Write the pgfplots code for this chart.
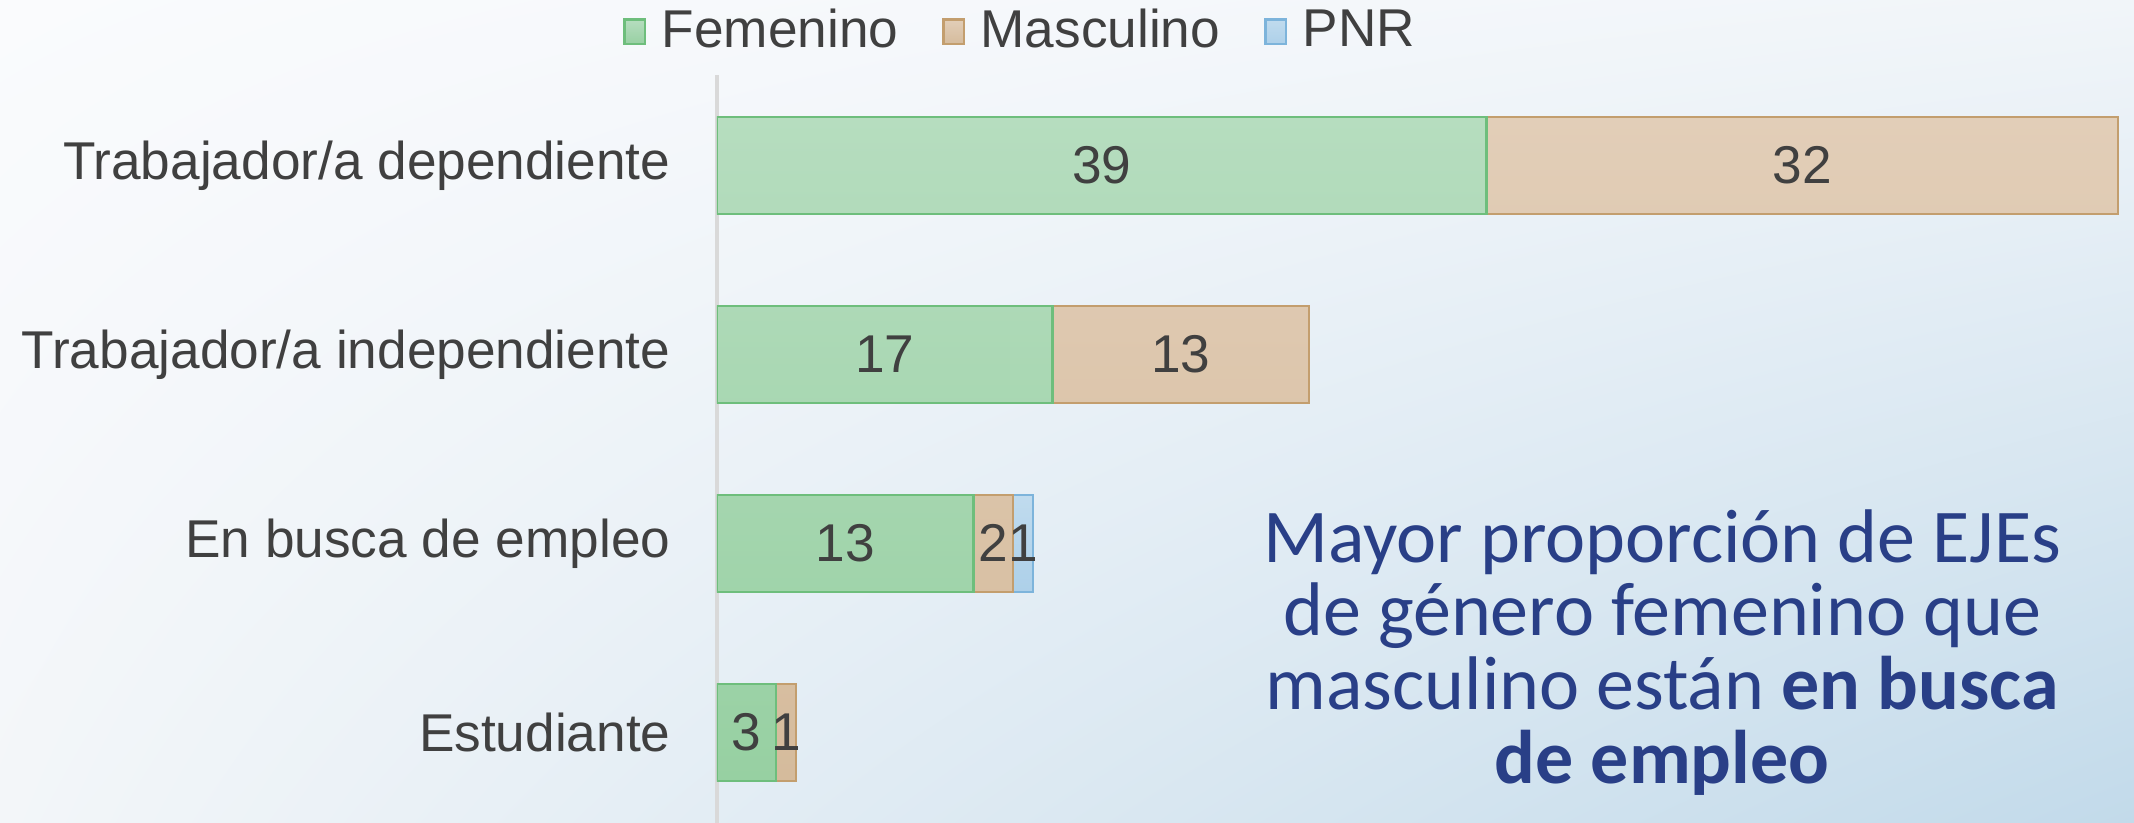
\documentclass[border=0pt]{standalone}
\usepackage{fontspec}
\setmainfont{Liberation Sans}
\newfontfamily\calibri{Carlito}
\usepackage{pgfplots}
\usepackage{pgfplotstable}
\pgfplotsset{compat=1.18}
\usetikzlibrary{backgrounds,shadings}

\definecolor{txt}{HTML}{404040}
\definecolor{axisgray}{HTML}{D9D9D9}
\definecolor{annot}{RGB}{41,63,135}
\definecolor{femTop}{HTML}{B6DDBF}
\definecolor{femBot}{HTML}{97D0A2}
\definecolor{femLine}{HTML}{6EBE7C}
\definecolor{masTop}{HTML}{E2CEB8}
\definecolor{masBot}{HTML}{D5BB9C}
\definecolor{masLine}{HTML}{C39E6E}
\definecolor{pnrTop}{HTML}{C0DBEE}
\definecolor{pnrBot}{HTML}{ADD0E9}
\definecolor{pnrLine}{HTML}{7DB4DB}
\definecolor{bgA}{HTML}{FAFBFD}
\definecolor{bgB}{HTML}{F1F5F9}
\definecolor{bgC}{HTML}{F3F6F9}
\definecolor{bgD}{HTML}{C2DAEA}

% 0 = Estudiante ... 3 = Trabajador/a dependiente
% "En busca" row first so the one-row PNR table stacks on it
\pgfplotstableread{
y v
1 13
0 3
2 17
3 39
}\fem
\pgfplotstableread{
y v
1 2
0 1
2 13
3 32
}\masc
\pgfplotstableread{
y v
1 1
}\pnr

\begin{document}
\fontsize{13.3}{16}\selectfont\color{txt}%
\begin{tikzpicture}
\begin{axis}[
  at={(0,0)}, anchor=south west,
  xbar stacked, bar width=24.25pt,
  x=4.934pt, y=47.25pt,
  xmin=0, xmax=71.8, ymin=-0.48, ymax=3.48,
  hide x axis,
  axis y line*=left,
  y axis line style={draw=axisgray, line width=0.8pt, -},
  ytick={0,1,2,3},
  yticklabels={Estudiante, En busca de empleo, Trabajador/a independiente, Trabajador/a dependiente},
  major tick length=0pt,
  yticklabel style={xshift=-7pt, text=txt},
  legend style={at={(0.216,1.057)}, anchor=center, draw=none, fill=none,
                legend columns=-1, text=txt,
                /tikz/every even column/.append style={column sep=9pt}},
  legend image code/.code={\draw[#1] (0pt,-3.1pt) rectangle (5.2pt,3.1pt); \path (7pt,0pt);},
  point meta=explicit symbolic,
  nodes near coords={\pgfplotspointmeta},
  every node near coord/.append style={anchor=center, text=txt},
]
\addplot[top color=femTop, bottom color=femBot, draw=femLine, line width=0.6pt] table[x=v, y=y, meta=v] {\fem};
\addplot[top color=masTop, bottom color=masBot, draw=masLine, line width=0.6pt] table[x=v, y=y, meta=v] {\masc};
\addplot[top color=pnrTop, bottom color=pnrBot, draw=pnrLine, line width=0.6pt] table[x=v, y=y, meta=v] {\pnr};
\legend{Femenino, Masculino, PNR}
\node[font=\calibri\fontsize{19}{18.4}\selectfont, text=annot, align=center]
  at (rel axis cs:0.667,0.228)
  {Mayor proporción de EJEs\\de género femenino que\\masculino están \textbf{en busca}\\\textbf{de empleo}};
\end{axis}
\begin{pgfonlayer}{background}
\shade[upper left=bgA, upper right=bgB, lower left=bgC, lower right=bgD]
  (-179.25pt,0pt) rectangle (354.25pt,205.75pt);
\end{pgfonlayer}
\pgfresetboundingbox
\path (-179.25pt,0pt) rectangle (354.25pt,205.75pt);
\end{tikzpicture}
\end{document}
